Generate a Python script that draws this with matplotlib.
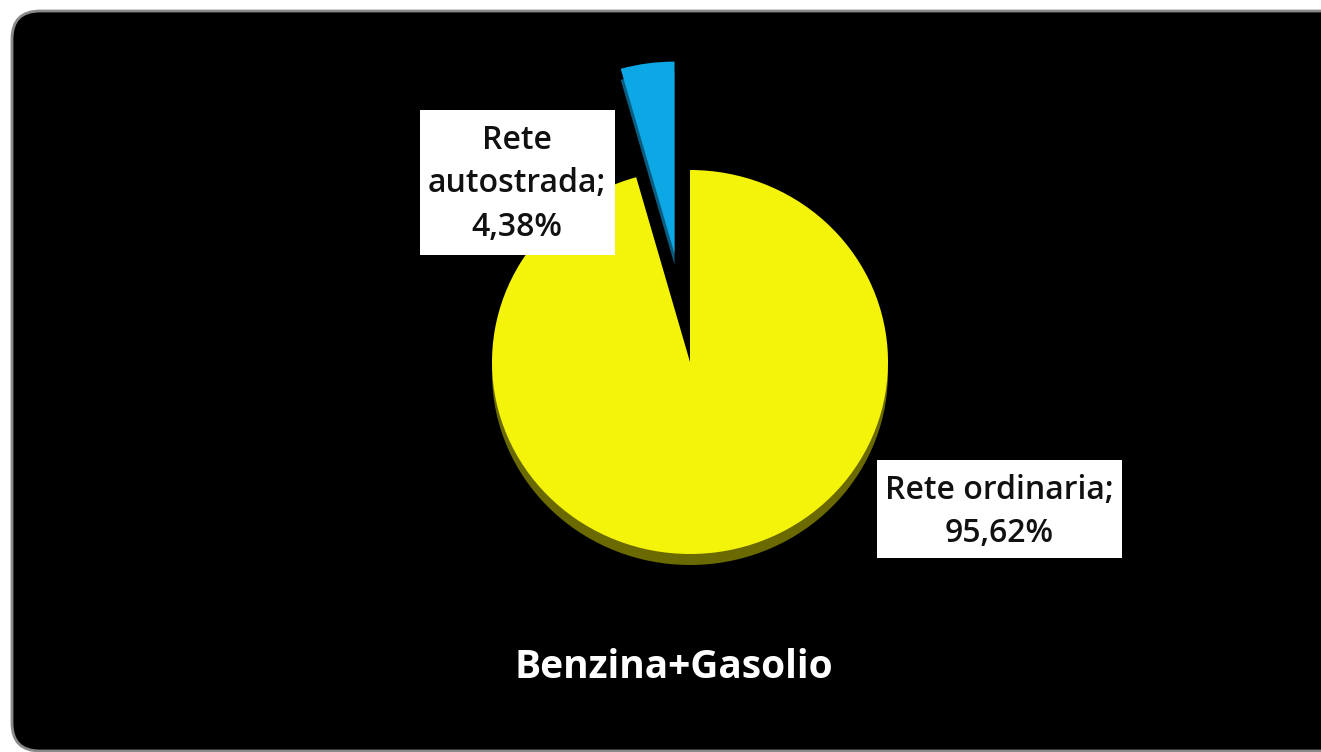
import matplotlib
matplotlib.use("Agg")
import matplotlib.pyplot as plt
from matplotlib.patches import FancyBboxPatch, Rectangle

# ---- data ----
categories = ["Rete autostrada", "Rete ordinaria"]
values = [4.38, 95.62]
title = "Benzina+Gasolio"

colors = ["#0CA8E6", "#F4F40A"]
shadow_colors = ["#0A5D80", "#6B6A00"]
explode = [0.57, 0.0]

W, H = 1321, 752
fig = plt.figure(figsize=(W / 100, H / 100), dpi=100)
fig.patch.set_facecolor("white")

# background axes in pixel coordinates (y down)
bg = fig.add_axes([0, 0, 1, 1], zorder=0)
bg.set_xlim(0, W)
bg.set_ylim(H, 0)
bg.axis("off")
bg.add_patch(FancyBboxPatch((12, 11), 1400, 740,
                            boxstyle="round,pad=0,rounding_size=28",
                            facecolor="black", edgecolor="#8a8a8a", linewidth=2))

# pie axes: elliptical scaling, centre at (690, 362) px
cx, cy = 690, 362
rx, ry = 198, 192
ax_w, ax_h = 3.0, 1.8
pie_ax = fig.add_axes([(cx - ax_w * rx) / W, (H - cy - ax_h * ry) / H,
                       2 * ax_w * rx / W, 2 * ax_h * ry / H], zorder=1)
pie_ax.patch.set_alpha(0)
depth = 11 / ry
pie_ax.pie(values, colors=shadow_colors, explode=explode, startangle=90,
           counterclock=True, center=(0, -depth),
           wedgeprops=dict(linewidth=0))
pie_ax.pie(values, colors=colors, explode=explode, startangle=90,
           counterclock=True, center=(0, 0),
           wedgeprops=dict(linewidth=0))
pie_ax.set_aspect("auto")
pie_ax.set_xlim(-ax_w, ax_w)
pie_ax.set_ylim(-ax_h, ax_h)
pie_ax.axis("off")

# overlay axes for labels and title
ov = fig.add_axes([0, 0, 1, 1], zorder=2)
ov.set_xlim(0, W)
ov.set_ylim(H, 0)
ov.axis("off")
ov.patch.set_alpha(0)

def fmt(v):
    return f"{v:.2f}".replace(".", ",") + "%"

label_font = dict(family=["Open Sans", "DejaVu Sans"], fontsize=23,
                  fontweight="semibold", color="#111111")

# left label (Rete autostrada)
ov.add_patch(Rectangle((420, 110), 195, 145, facecolor="white", edgecolor="none"))
ov.text(517, 184, "Rete\nautostrada;\n" + fmt(values[0]), ha="center", va="center",
        linespacing=1.42, **label_font)

# right label (Rete ordinaria)
ov.add_patch(Rectangle((877, 460), 245, 98, facecolor="white", edgecolor="none"))
ov.text(999, 512, categories[1] + ";\n" + fmt(values[1]), ha="center", va="center",
        linespacing=1.42, **label_font)

ov.text(674, 667, title, ha="center", va="center", color="white",
        fontsize=28, fontweight="bold", family=["Open Sans", "DejaVu Sans"])

fig.savefig("out.png", dpi=100, facecolor="white")
